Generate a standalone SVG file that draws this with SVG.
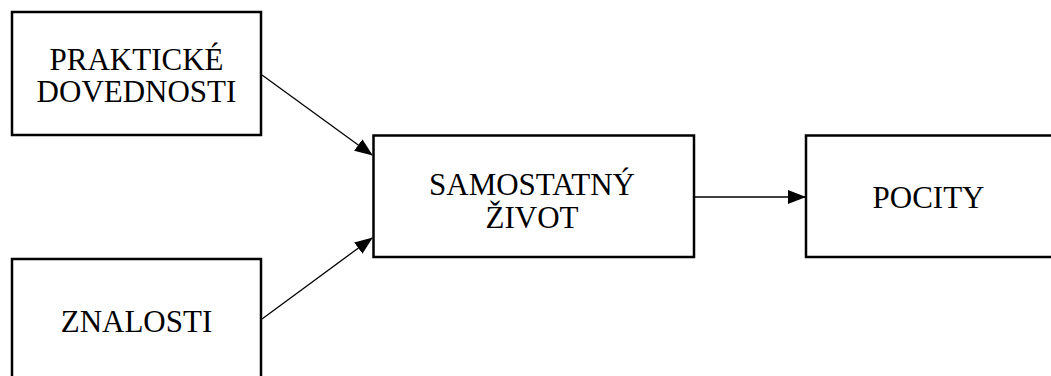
<svg xmlns="http://www.w3.org/2000/svg" width="1051" height="376" viewBox="0 0 1051 376">
<style>
.box{fill:#fff;stroke:#000;stroke-width:2.5}
.lbl{font-family:"Liberation Serif","Times New Roman",serif;font-size:31px;fill:#000;text-anchor:middle}
.conn{stroke:#000;stroke-width:1.3;fill:none}
</style>
<defs>
<marker id="ah" markerWidth="18" markerHeight="14" refX="17" refY="7" orient="auto" markerUnits="userSpaceOnUse">
<path d="M0,0 L18,7 L0,14 Z" fill="#000"/>
</marker>
</defs>
<rect width="1051" height="376" fill="#fff"/>
<g id="n-prakticke">
<rect class="box" x="12" y="12" width="249" height="123"/>
<text class="lbl" x="136.5" y="70">PRAKTICKÉ</text>
<text class="lbl" x="136.5" y="102">DOVEDNOSTI</text>
</g>
<g id="n-znalosti">
<rect class="box" x="12" y="259" width="249" height="130"/>
<text class="lbl" x="136.5" y="332">ZNALOSTI</text>
</g>
<g id="n-samostatny">
<rect class="box" x="373.5" y="135.5" width="320.5" height="121.5"/>
<text class="lbl" x="532" y="195">SAMOSTATNÝ</text>
<text class="lbl" x="532" y="228">ŽIVOT</text>
</g>
<g id="n-pocity">
<rect class="box" x="806" y="135.5" width="260" height="121.5"/>
<text class="lbl" x="928.5" y="208">POCITY</text>
</g>
<g id="connectors">
<line class="conn" x1="262" y1="75" x2="372" y2="155" marker-end="url(#ah)"/>
<line class="conn" x1="262" y1="319" x2="372" y2="238" marker-end="url(#ah)"/>
<line class="conn" x1="694" y1="197" x2="805" y2="197" marker-end="url(#ah)"/>
</g>
</svg>
